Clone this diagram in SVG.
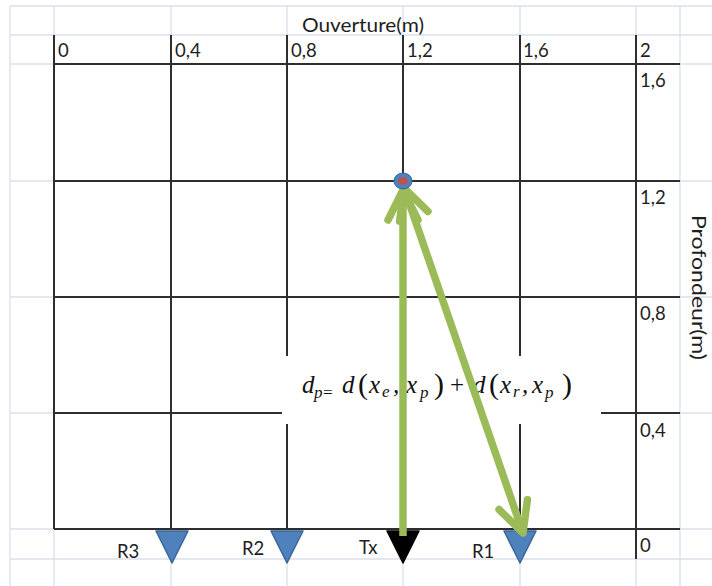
<svg xmlns="http://www.w3.org/2000/svg" width="712" height="586" viewBox="0 0 712 586">
<defs>
<style>
.faint{stroke:#d9e0ec;stroke-width:1.3;fill:none}
.thick{stroke:#2e2e2e;stroke-width:2;fill:none}
.lbl{font-family:Lato,"Open Sans","Liberation Sans",sans-serif;font-size:18.5px;fill:#1e1e1e}
.f{font-family:"Liberation Serif","DejaVu Serif",serif;font-style:italic;fill:#111}
.fm{font-size:25px}
.fs{font-size:17px}
.fp{font-size:30px;font-style:normal}
.rx{fill:#4f81bd;stroke:#3a6596;stroke-width:1.5;stroke-linejoin:round}
.tx{fill:#000;stroke:#000;stroke-width:1.5;stroke-linejoin:round}
.arrow{stroke:#9bbb59;stroke-width:7.5;fill:none}
</style>
<marker id="chev" markerUnits="userSpaceOnUse" markerWidth="50" markerHeight="50" viewBox="-40 -25 50 50" refX="-4" refY="0" orient="auto-start-reverse">
<path d="M-30,-15 L0,0 L-30,15" fill="none" stroke="#9bbb59" stroke-width="7.5" stroke-linecap="round" stroke-linejoin="round"/>
</marker>
</defs>
<rect width="712" height="586" fill="#fff"/>
<g id="sheet-grid" class="faint">
<path d="M10,6V586M54,6V586M171,6V586M287,6V586M403,6V586M520,6V586M636,6V586M680,6V586"/>
<path d="M10,6H712M10,35H712M10,64H712M10,181H712M10,297H712M10,413H712M10,529H712M10,559H712"/>
</g>
<g id="axes-grid" class="thick">
<path d="M54,35V529M171,35V529M287,35V529M403,35V529M520,35V529M636,35V559"/>
<path d="M54,64H680M54,181H680M54,297H680M54,413H680M54,529H680"/>
</g>
<g id="axis-labels" class="lbl">
<text x="302" y="32" textLength="122" lengthAdjust="spacingAndGlyphs">Ouverture(m)</text>
<text x="58" y="57">0</text>
<text x="175" y="57">0,4</text>
<text x="291" y="57">0,8</text>
<text x="407" y="57">1,2</text>
<text x="523" y="57">1,6</text>
<text x="640" y="57">2</text>
<text x="640" y="87">1,6</text>
<text x="640" y="204">1,2</text>
<text x="640" y="320">0,8</text>
<text x="640" y="437">0,4</text>
<text x="640" y="552">0</text>
<text transform="translate(692,215) rotate(90)" textLength="145" lengthAdjust="spacingAndGlyphs">Profondeur(m)</text>
</g>
<g id="formula">
<rect x="282" y="356" width="319" height="68" fill="#fff"/>
<g class="f">
<text x="302" y="393" class="fm">d</text>
<text x="314" y="398" class="fs">p</text>
<text x="323" y="398" class="fs" font-style="normal">=</text>
<text x="342" y="393" class="fm">d</text>
<text x="358" y="394" class="fp">(</text>
<text x="369" y="393" class="fm">x</text>
<text x="382" y="397" class="fs">e</text>
<text x="393" y="393" class="fm">,</text>
<text x="406" y="393" class="fm">x</text>
<text x="420" y="398" class="fs">p</text>
<text x="434" y="394" class="fp">)</text>
<text x="450" y="393" font-size="25px" font-style="normal">+</text>
<text x="473" y="393" class="fm">d</text>
<text x="489" y="394" class="fp">(</text>
<text x="500" y="393" class="fm">x</text>
<text x="513" y="397" class="fs">r</text>
<text x="522" y="393" class="fm">,</text>
<text x="532" y="393" class="fm">x</text>
<text x="545" y="398" class="fs">p</text>
<text x="562" y="394" class="fp">)</text>
</g>
</g>
<g id="R3">
<path class="rx" d="M156,531H188L172,563Z"/>
<text class="lbl" x="117" y="558">R3</text>
</g>
<g id="R2">
<path class="rx" d="M271,531H303L287,563Z"/>
<text class="lbl" x="242" y="555">R2</text>
</g>
<g id="Tx">
<path class="tx" d="M387,531H419L403,563Z"/>
<text class="lbl" x="359" y="554">Tx</text>
</g>
<g id="R1">
<path class="rx" d="M504,531H536L520,563Z"/>
<text class="lbl" x="472" y="558">R1</text>
</g>
<g id="connectors">
<path class="arrow" d="M403,536V194" marker-end="url(#chev)"/>
<path class="arrow" d="M405.3,191.8L521.7,529.2" marker-start="url(#chev)" marker-end="url(#chev)"/>
</g>
<g id="P">
<ellipse cx="403" cy="181" rx="9" ry="8" fill="#4f81bd" stroke="#3a6596" stroke-width="1"/>
<ellipse cx="403" cy="181" rx="5" ry="3.8" fill="#c0504d"/>
</g>
</svg>
